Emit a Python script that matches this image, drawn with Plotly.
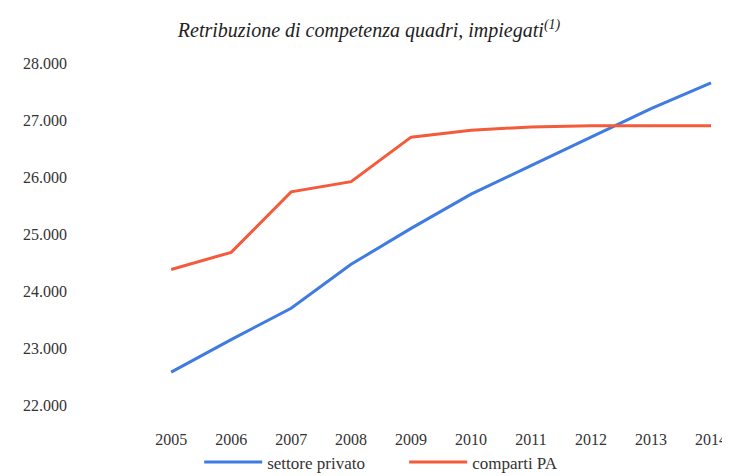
import plotly.graph_objects as go

# values
years = [2005, 2006, 2007, 2008, 2009, 2010, 2011, 2012, 2013, 2014]
settore_privato = [22580, 23150, 23700, 24470, 25100, 25700, 26200, 26700, 27200, 27650]
comparti_pa = [24380, 24680, 25740, 25920, 26700, 26820, 26880, 26900, 26900, 26900]
y_ticks = [22000, 23000, 24000, 25000, 26000, 27000, 28000]
y_labels = ["22.000", "23.000", "24.000", "25.000", "26.000", "27.000", "28.000"]

BLUE = "#3f7be0"
RED = "#f35b3b"
FONT = "Liberation Serif"

fig = go.Figure()
fig.add_trace(go.Scatter(x=years, y=settore_privato, mode="lines", name="settore privato",
                         line=dict(color=BLUE, width=3)))
fig.add_trace(go.Scatter(x=years, y=comparti_pa, mode="lines", name="comparti PA",
                         line=dict(color=RED, width=3)))

# page body has an 8px margin, so the figure is 8px smaller on each axis
fig.update_layout(
    width=722, height=468,
    paper_bgcolor="white", plot_bgcolor="white",
    margin=dict(l=60, r=13, t=55, b=48, autoexpand=False),
    font=dict(family=FONT, size=16, color="#333333"),
    title=dict(text="<i>Retribuzione di competenza quadri, impiegati<sup>(1)</sup></i>",
               x=0.5, xanchor="center", y=0.953, yanchor="middle",
               font=dict(family=FONT, size=20, color="#222222")),
    showlegend=True,
    legend=dict(orientation="h", x=0.518, xanchor="center", y=-0.045, yanchor="top",
                bgcolor="rgba(0,0,0,0)",
                font=dict(family=FONT, size=17, color="#333333"),
                itemwidth=58, entrywidth=132),
    xaxis=dict(range=[2003.28, 2014.1], tickvals=years, ticktext=[str(y) for y in years],
               showgrid=False, zeroline=False, showline=False, ticks="", automargin=False),
    yaxis=dict(range=[21600, 28000], tickvals=y_ticks, ticktext=y_labels,
               showgrid=False, zeroline=False, showline=False, ticks="", automargin=False),
)

fig.write_html("out.html")
